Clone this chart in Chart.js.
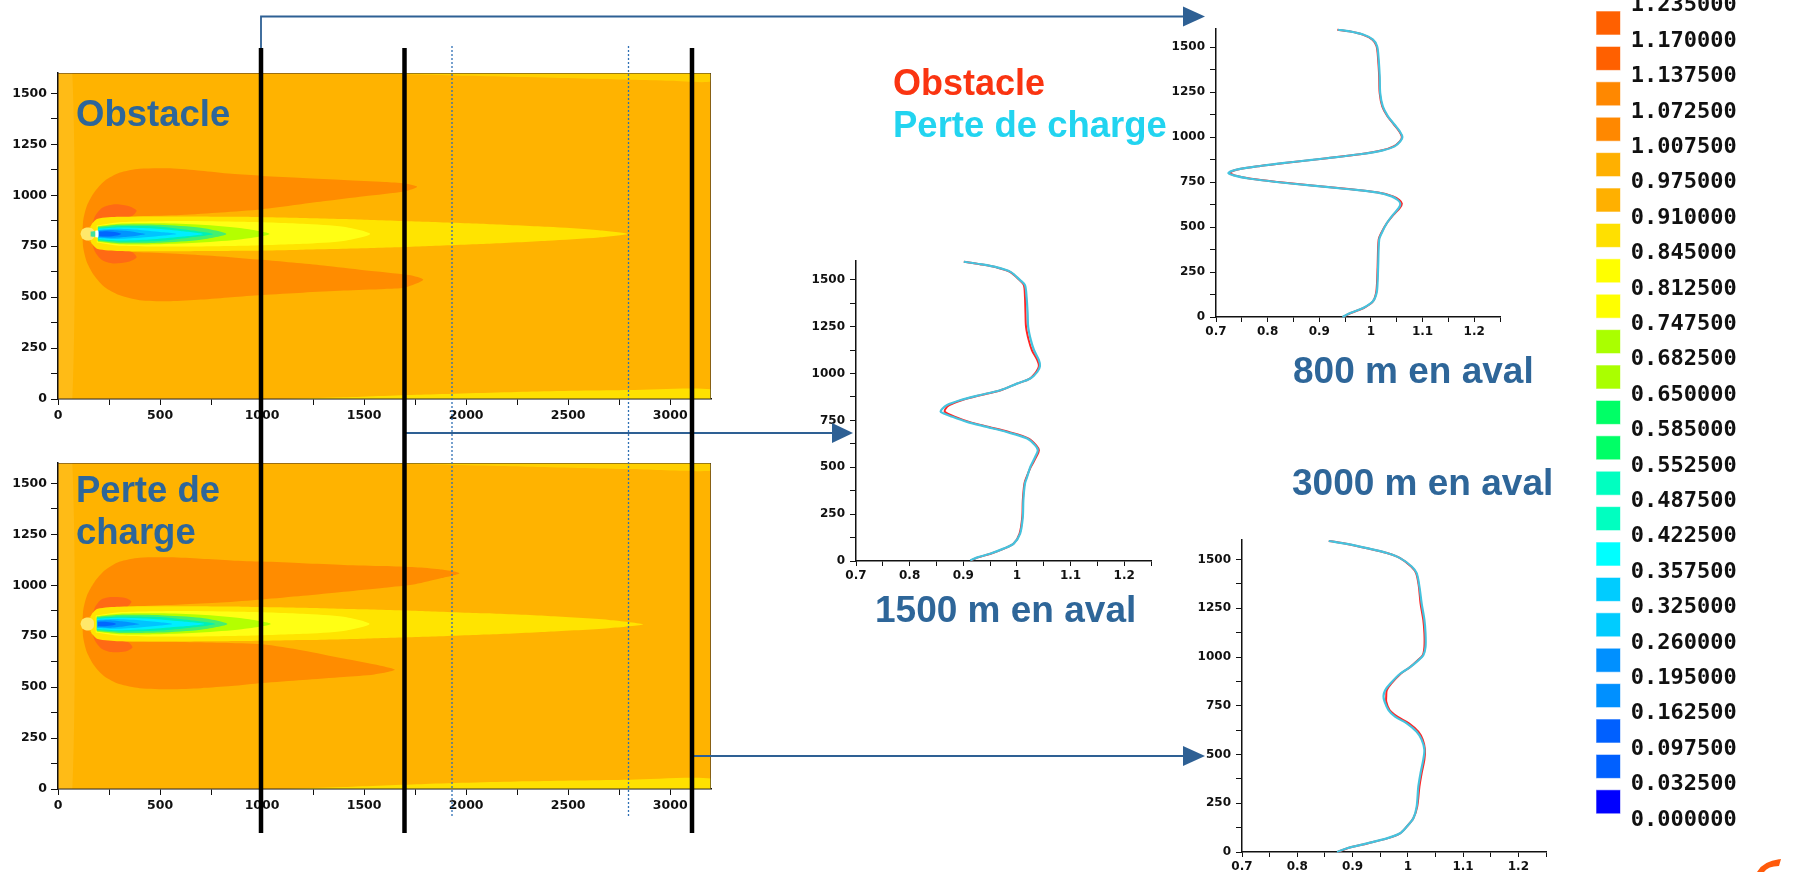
<!DOCTYPE html>
<html>
<head>
<meta charset="utf-8">
<title>Profils de vitesse — Obstacle / Perte de charge</title>
<script src="https://cdn.jsdelivr.net/npm/chart.js@4.4.1/dist/chart.umd.min.js"></script>
<style>
html,body{margin:0;padding:0;background:#fff;}
body{position:relative;width:1812px;height:872px;overflow:hidden;}
canvas{position:absolute;}
#ov{position:absolute;left:0;top:0;z-index:10;pointer-events:none;}
</style>
</head>
<body>
<canvas id="cObs" width="725" height="380" style="left:0;top:55px"></canvas>
<canvas id="cPer" width="725" height="380" style="left:0;top:445px"></canvas>
<canvas id="p800" width="355" height="330" style="left:1160px;top:15px"></canvas>
<canvas id="p1500" width="365" height="345" style="left:800px;top:245px"></canvas>
<canvas id="p3000" width="375" height="347" style="left:1185px;top:525px"></canvas>
<svg id="ov" width="1812" height="872" xmlns="http://www.w3.org/2000/svg">
  <g font-family="'Liberation Sans', Arial, sans-serif" font-weight="bold">
    <text x="893" y="95" font-size="36" fill="#fa3411">Obstacle</text>
    <text x="893" y="137" font-size="36.5" fill="#22d4f0">Perte de charge</text>
    <text x="1293" y="383" font-size="37" fill="#2e6699">800 m en aval</text>
    <text x="1292" y="495" font-size="37" fill="#2e6699">3000 m en aval</text>
    <text x="875" y="622" font-size="37" fill="#2e6699">1500 m en aval</text>
    <text x="76" y="126" font-size="36.5" fill="#2e6699">Obstacle</text>
    <text x="76" y="502" font-size="36.5" fill="#2e6699">Perte de</text>
    <text x="76" y="544" font-size="36.5" fill="#2e6699">charge</text>
  </g>
  <g stroke="#2e6094" stroke-width="1.8" fill="none">
    <polyline points="261,48 261,16.5 1186,16.5"/>
    <line x1="404.5" y1="433" x2="834" y2="433"/>
    <line x1="692" y1="756" x2="1186" y2="756"/>
  </g>
  <g fill="#2e6094">
    <polygon points="1183,6.5 1205,16.5 1183,26.5"/>
    <polygon points="832,423 853,433 832,443"/>
    <polygon points="1183,746 1205,756 1183,766"/>
  </g>
  <g stroke="#2f6fb5" stroke-width="1.3" stroke-dasharray="2 2">
    <line x1="452" y1="46" x2="452" y2="817"/>
    <line x1="628.5" y1="46" x2="628.5" y2="817"/>
  </g>
  <g stroke="#000" stroke-width="4.5">
    <line x1="261" y1="48" x2="261" y2="833"/>
    <line x1="404.5" y1="48" x2="404.5" y2="833"/>
    <line x1="692" y1="48" x2="692" y2="833"/>
  </g>
  <path d="M1757 872 Q1763 861 1781 859 L1779 866 Q1768 866 1764 872 Z" fill="#ff5a0a"/>
  <g id="legend"></g>
</svg>
<script>
// ---------------- DATA ----------------
// Contour axes (m)
const contourXTicks = [0, 500, 1000, 1500, 2000, 2500, 3000];
const contourXMinor = [250, 750, 1250, 1750, 2250, 2750];
const contourYTicks = [0, 250, 500, 750, 1000, 1250, 1500];
const contourYMinor = [125, 375, 625, 875, 1125, 1375];
// Profile axes
const profileXTicks = [0.7, 0.8, 0.9, 1, 1.1, 1.2];
const profileXMinor = [0.75, 0.85, 0.95, 1.05, 1.15, 1.25];
const profileYTicks = [0, 250, 500, 750, 1000, 1250, 1500];
const profileYMinor = [125, 375, 625, 875, 1125, 1375];

// Legend levels
const legendLabels = ['1.235000','1.170000','1.137500','1.072500','1.007500','0.975000','0.910000','0.845000','0.812500','0.747500','0.682500','0.650000','0.585000','0.552500','0.487500','0.422500','0.357500','0.325000','0.260000','0.195000','0.162500','0.097500','0.032500','0.000000'];
const legendColors = ['#ffb4b4','#ff6000','#ff6000','#ff8800','#ff8800','#ffb000','#ffb000','#ffe000','#ffff00','#ffff00','#aaff00','#aaff00','#00ff66','#00ff66','#00ffc0','#00ffc0','#00ffff','#00ccff','#00ccff','#0090ff','#0090ff','#0060ff','#0060ff','#0000ff'];

// Profile 800 m downstream
const p800Y = [0,22,50,87,133,200,281,430,467,522,569,606,630,650,670,692,711,731,750,768,787,800,819,839,861,882,904,926,948,976,1000,1031,1068,1115,1170,1244,1337,1430,1504,1541,1569,1587,1596];
const p800Perte = [0.945,0.960,0.985,1.004,1.011,1.013,1.014,1.016,1.021,1.031,1.043,1.054,1.057,1.052,1.040,1.011,0.953,0.882,0.817,0.766,0.734,0.724,0.740,0.785,0.849,0.914,0.978,1.023,1.046,1.057,1.061,1.056,1.046,1.033,1.023,1.018,1.017,1.015,1.012,1.004,0.985,0.959,0.936];
const p800Obstacle = [0.946,0.961,0.986,1.004,1.010,1.012,1.013,1.015,1.020,1.031,1.044,1.056,1.060,1.055,1.043,1.014,0.957,0.886,0.820,0.768,0.736,0.727,0.742,0.786,0.850,0.915,0.979,1.022,1.044,1.056,1.060,1.055,1.045,1.032,1.022,1.017,1.016,1.014,1.011,1.003,0.984,0.958,0.935];

// Profile 1500 m downstream
const p1500Y = [4,18,39,66,93,146,235,324,413,448,502,555,591,617,653,688,715,742,769,795,812,831,857,881,911,946,973,1009,1040,1071,1124,1178,1249,1320,1409,1471,1498,1542,1566,1583,1596];
const p1500Perte = [0.913,0.925,0.950,0.975,0.994,1.006,1.011,1.012,1.015,1.019,1.025,1.034,1.039,1.034,1.019,0.981,0.944,0.907,0.880,0.858,0.861,0.869,0.894,0.925,0.969,1.000,1.025,1.038,1.043,1.041,1.032,1.026,1.021,1.020,1.018,1.015,1.006,0.988,0.963,0.932,0.901];
const p1500Obstacle = [0.915,0.926,0.951,0.976,0.994,1.005,1.010,1.011,1.014,1.018,1.026,1.036,1.041,1.036,1.022,0.985,0.948,0.911,0.885,0.866,0.867,0.874,0.897,0.927,0.970,1.000,1.024,1.036,1.041,1.038,1.028,1.022,1.017,1.016,1.015,1.013,1.005,0.987,0.962,0.931,0.901];

// Profile 3000 m downstream
const p3000Y = [0,19,44,70,96,130,173,233,335,404,474,525,576,617,660,694,728,771,800,830,863,914,948,983,1009,1052,1121,1190,1275,1361,1430,1464,1507,1533,1558,1580,1595];
const p3000Perte = [0.872,0.890,0.926,0.962,0.986,0.998,1.010,1.016,1.019,1.023,1.028,1.030,1.025,1.016,0.998,0.977,0.965,0.958,0.956,0.959,0.968,0.986,1.004,1.019,1.028,1.032,1.032,1.030,1.025,1.021,1.016,1.007,0.986,0.962,0.926,0.890,0.857];
const p3000Obstacle = [0.873,0.891,0.927,0.963,0.986,0.998,1.010,1.017,1.021,1.025,1.030,1.031,1.027,1.019,1.002,0.981,0.967,0.961,0.961,0.962,0.970,0.987,1.004,1.018,1.027,1.030,1.030,1.028,1.023,1.020,1.015,1.006,0.986,0.962,0.926,0.890,0.857];

// Contour zones, "Obstacle" case  (x,y pairs in m)
const domain = [0,0, 3200,0, 3200,1600, 0,1600];
const inletStrip = [0,0, 70,0, 70,1600, 0,1600];
const obsTopStrip = [1300,1600, 3200,1600, 3200,1558, 3000,1562, 2600,1572, 2000,1586, 1600,1596];
const obsBottomStrip = [1100,0, 3200,0, 3200,48, 2800,44, 2300,36, 1800,22, 1400,8];
const obsUpperLobe = [120,815, 124,880, 142,950, 178,1015, 228,1070, 300,1110, 400,1130, 550,1132, 700,1120, 850,1105, 1000,1095, 1200,1085, 1400,1075, 1600,1065, 1700,1058, 1760,1042, 1700,1020, 1500,995, 1300,970, 1000,931, 800,915, 600,903, 400,897, 300,893, 230,880, 180,862, 145,838];
const obsLowerLobe = [120,805, 124,740, 142,670, 178,605, 228,550, 300,510, 400,485, 550,480, 700,488, 850,500, 1000,511, 1200,522, 1400,532, 1600,540, 1700,547, 1790,585, 1720,608, 1500,632, 1300,655, 1000,683, 800,700, 600,712, 400,720, 300,725, 230,738, 180,756, 145,780];
const obsUpperPeak = [165,845, 180,895, 215,938, 270,955, 340,948, 385,925, 365,900, 305,885, 245,872, 195,855];
const obsLowerPeak = [165,775, 180,725, 215,682, 270,665, 340,672, 385,695, 365,720, 305,735, 245,748, 195,765];
const obsWakeOuter = [150,812, 165,858, 195,885, 300,894, 600,896, 900,894, 1200,888, 1500,880, 1800,870, 2100,859, 2400,845, 2650,828, 2790,810, 2650,793, 2400,777, 2100,762, 1800,750, 1500,740, 1200,733, 900,727, 600,725, 300,726, 195,736, 165,762];
const obsBlob = [110,810, 118,832, 140,842, 165,838, 178,825, 178,795, 165,782, 140,778, 118,788];
const obsWakeInner = [190,852, 300,868, 600,874, 900,870, 1200,860, 1400,845, 1530,810, 1400,776, 1200,762, 900,752, 600,748, 300,752, 190,768];
const obsLime = [195,848, 300,860, 500,862, 700,855, 900,838, 1037,810, 900,784, 700,768, 500,760, 300,760, 195,772];
const obsGreen = [195,845, 300,855, 500,855, 700,840, 825,810, 700,782, 500,767, 300,765, 195,775];
const obsTeal = [197,840, 300,848, 500,846, 640,830, 760,810, 640,792, 500,776, 300,772, 197,780];
const obsCyan = [198,836, 300,842, 450,838, 600,825, 711,810, 600,796, 450,783, 300,778, 198,784];
const obsSky = [198,830, 280,835, 400,830, 520,818, 580,810, 520,802, 400,791, 280,785, 198,790];
const obsBlue = [198,826, 260,829, 340,824, 400,815, 430,810, 400,804, 340,796, 260,791, 198,794];
const obsDeep = [200,821, 240,823, 290,817, 310,810, 290,803, 240,797, 200,799];
const obsFront = [160,798, 183,798, 183,822, 160,822];
const obsBody = [183,794, 197,794, 197,826, 183,826];

// Contour zones, "Perte de charge" case
const perTopStrip = [1450,1600, 3200,1600, 3200,1562, 2800,1570, 2300,1582, 1800,1594];
const perBottomStrip = [1100,0, 3200,0, 3200,52, 2800,46, 2300,38, 1800,25, 1400,10];
const perUpperLobe = [120,815, 124,880, 142,950, 178,1015, 228,1072, 300,1115, 400,1135, 550,1137, 700,1130, 850,1122, 1000,1116, 1200,1108, 1400,1100, 1600,1094, 1750,1088, 1870,1078, 1967,1059, 1880,1035, 1750,1005, 1600,988, 1400,968, 1200,948, 1000,930, 800,915, 600,905, 400,897, 300,893, 230,880, 180,862, 145,838];
const perLowerLobe = [120,805, 124,740, 142,670, 178,605, 228,552, 300,515, 400,495, 550,490, 700,495, 850,505, 1000,520, 1200,535, 1400,550, 1550,562, 1651,585, 1580,605, 1400,640, 1200,680, 1000,710, 800,718, 600,722, 400,724, 300,728, 230,740, 180,758, 145,782];
const perUpperPeak = [165,840, 180,890, 212,930, 262,942, 330,938, 360,920, 340,895, 290,880, 235,868, 192,852];
const perLowerPeak = [165,780, 180,730, 212,690, 262,672, 330,675, 365,695, 345,720, 295,735, 240,748, 195,765];
const perWakeOuter = [150,812, 165,858, 195,885, 300,895, 600,897, 900,895, 1200,890, 1500,882, 1800,873, 2100,862, 2400,849, 2700,830, 2868,808, 2700,789, 2400,772, 2100,758, 1800,747, 1500,738, 1200,731, 900,726, 600,724, 300,725, 195,736, 165,762];
const perBlob = [110,810, 118,832, 140,842, 162,838, 175,825, 175,795, 162,782, 140,778, 118,788];
const perWakeInner = [185,852, 300,868, 600,874, 900,870, 1200,860, 1400,845, 1527,810, 1400,776, 1200,762, 900,752, 600,748, 300,752, 185,768];
const perLime = [190,848, 300,860, 500,862, 700,855, 900,838, 1043,810, 900,784, 700,768, 500,760, 300,760, 190,772];
const perGreen = [190,845, 300,854, 500,853, 700,840, 830,810, 700,782, 500,768, 300,766, 190,775];
const perTeal = [190,840, 300,847, 500,844, 650,828, 770,810, 650,792, 500,778, 300,773, 190,780];
const perCyan = [192,836, 300,841, 450,836, 600,823, 716,810, 600,797, 450,785, 300,779, 192,784];
const perSky = [192,830, 280,834, 400,828, 500,818, 560,810, 500,802, 400,793, 280,786, 192,790];
const perBlue = [192,826, 250,828, 320,822, 380,814, 400,810, 380,806, 320,798, 250,792, 192,794];
const perDeep = [195,820, 230,821, 270,816, 285,810, 270,804, 230,799, 195,800];

// ---------------- STYLE ----------------
const zoneColors = {
  bg:'#ffb300', inlet:'#ffbb16', topStrip:'#ffcf00', bottomStrip:'#ffe000', lobe:'#ff8c00', peak:'#ff6a14',
  wakeOuter:'#ffe400', blob:'#ffe86a', wakeInner:'#ffff14', lime:'#b4ff00', green:'#44f070', teal:'#00f0b4',
  cyan:'#00eeff', sky:'#00c4ff', blue:'#0094ff', deep:'#0066ff', front:'#40e0a0', body:'#ffffff'
};
const tickFontContour = {family:"'DejaVu Sans', sans-serif", weight:'bold', size:12.5};
const tickFontProfile = {family:"'DejaVu Sans', sans-serif", weight:'bold', size:12};

function pts(flat){ const a=[]; for(let i=0;i<flat.length;i+=2) a.push({x:flat[i], y:flat[i+1]}); return a; }
function merge(a,b){ return a.concat(b).sort((p,q)=>p-q); }

function contourChart(id, layers){
  const datasets = layers.map(([flat,key]) => ({
    data: pts(flat), backgroundColor: zoneColors[key], borderColor:'rgba(0,0,0,0)', borderWidth:0,
    pointRadius:0, pointHoverRadius:0, fill:'shape', tension:0.25
  }));
  datasets.push({data: pts(domain.concat([0,0])), borderColor:'#3a2a22', borderWidth:1.2, pointRadius:0, fill:false, tension:0});
  datasets.forEach((d,i)=>{ d.order = datasets.length - i; });
  const xAll = merge(contourXTicks, contourXMinor), yAll = merge(contourYTicks, contourYMinor);
  new Chart(document.getElementById(id), {
    type:'line',
    data:{datasets},
    options:{
      responsive:false, devicePixelRatio:1, animation:false, events:[],
      layout:{padding:{top:18, right:14, left:0, bottom:0}},
      plugins:{legend:{display:false}, tooltip:{enabled:false}},
      scales:{
        x:{type:'linear', min:0, max:3200,
           afterBuildTicks: ax => { ax.ticks = xAll.map(v=>({value:v})); },
           afterFit: ax => { ax.height = 36; },
           ticks:{callback: v => contourXTicks.includes(v) ? String(v) : '', font:tickFontContour, color:'#111', autoSkip:false, maxRotation:0, padding:3},
           grid:{drawOnChartArea:false, tickLength:6, color:'#111', lineWidth:1},
           border:{color:'#111', width:1.5}},
        y:{type:'linear', min:0, max:1600,
           afterBuildTicks: ax => { ax.ticks = yAll.map(v=>({value:v})); },
           afterFit: ax => { ax.width = 58; },
           ticks:{callback: v => contourYTicks.includes(v) ? String(v) : '', font:tickFontContour, color:'#111', autoSkip:false, padding:4},
           grid:{drawOnChartArea:false, tickLength:7, color:'#111', lineWidth:1},
           border:{color:'#111', width:1.5}}
      }
    }
  });
}

function profileChart(id, ys, obs, per, pad, yw, xh){
  const xAll = merge(profileXTicks, profileXMinor), yAll = merge(profileYTicks, profileYMinor);
  new Chart(document.getElementById(id), {
    type:'line',
    data:{datasets:[
      {label:'Perte de charge', data: ys.map((y,i)=>({x:per[i], y})), borderColor:'#45c3de', borderWidth:2.2, pointRadius:0, fill:false, tension:0.3, order:0, clip:false},
      {label:'Obstacle', data: ys.map((y,i)=>({x:obs[i], y})), borderColor:'#ff2424', borderWidth:2, pointRadius:0, fill:false, tension:0.3, order:1, clip:false}
    ]},
    options:{
      responsive:false, devicePixelRatio:1, animation:false, events:[],
      layout:{padding:{top:pad.top, right:pad.right, left:0, bottom:0}},
      plugins:{legend:{display:false}, tooltip:{enabled:false}},
      scales:{
        x:{type:'linear', min:0.7, max:1.25,
           afterBuildTicks: ax => { ax.ticks = xAll.map(v=>({value:v})); },
           afterFit: ax => { ax.height = xh; },
           ticks:{callback: v => profileXTicks.includes(v) ? String(v) : '', font:tickFontProfile, color:'#111', autoSkip:false, maxRotation:0, padding:3},
           grid:{drawOnChartArea:false, tickLength:5, color:'#111', lineWidth:1},
           border:{color:'#111', width:1.5}},
        y:{type:'linear', min:0, max:1600,
           afterBuildTicks: ax => { ax.ticks = yAll.map(v=>({value:v})); },
           afterFit: ax => { ax.width = yw; },
           ticks:{callback: v => profileYTicks.includes(v) ? String(v) : '', font:tickFontProfile, color:'#111', autoSkip:false, padding:5},
           grid:{drawOnChartArea:false, tickLength:6, color:'#111', lineWidth:1},
           border:{color:'#111', width:1.5}}
      }
    }
  });
}

contourChart('cObs', [
  [domain,'bg'], [inletStrip,'inlet'], [obsTopStrip,'topStrip'], [obsBottomStrip,'bottomStrip'],
  [obsUpperLobe,'lobe'], [obsLowerLobe,'lobe'], [obsUpperPeak,'peak'], [obsLowerPeak,'peak'],
  [obsWakeOuter,'wakeOuter'], [obsBlob,'blob'], [obsWakeInner,'wakeInner'], [obsLime,'lime'],
  [obsGreen,'green'], [obsTeal,'teal'], [obsCyan,'cyan'], [obsSky,'sky'], [obsBlue,'blue'], [obsDeep,'deep'],
  [obsFront,'front'], [obsBody,'body']
]);
contourChart('cPer', [
  [domain,'bg'], [inletStrip,'inlet'], [perTopStrip,'topStrip'], [perBottomStrip,'bottomStrip'],
  [perUpperLobe,'lobe'], [perLowerLobe,'lobe'], [perUpperPeak,'peak'], [perLowerPeak,'peak'],
  [perWakeOuter,'wakeOuter'], [perBlob,'blob'], [perWakeInner,'wakeInner'], [perLime,'lime'],
  [perGreen,'green'], [perTeal,'teal'], [perCyan,'cyan'], [perSky,'sky'], [perBlue,'blue'], [perDeep,'deep']
]);
profileChart('p800', p800Y, p800Obstacle, p800Perte, {top:14, right:15}, 56, 28);
profileChart('p1500', p1500Y, p1500Obstacle, p1500Perte, {top:16, right:14}, 56, 29);
profileChart('p3000', p3000Y, p3000Obstacle, p3000Perte, {top:15, right:14}, 57, 20);

// Legend (colour scale)
(function(){
  const g = document.getElementById('legend');
  const NS = 'http://www.w3.org/2000/svg';
  legendColors.forEach((c,j)=>{
    const r = document.createElementNS(NS,'rect');
    r.setAttribute('x', 1596); r.setAttribute('y', (11 + 35.4*(j-1)).toFixed(1));
    r.setAttribute('width', 24.5); r.setAttribute('height', 24);
    r.setAttribute('fill', c); r.setAttribute('stroke', 'rgba(255,255,255,0.6)'); r.setAttribute('stroke-width', 1);
    g.appendChild(r);
  });
  legendLabels.forEach((t,i)=>{
    const tx = document.createElementNS(NS,'text');
    tx.setAttribute('x', 1630.7); tx.setAttribute('y', (11.3 + 35.4*i).toFixed(1));
    tx.setAttribute('font-family', "'DejaVu Sans Mono', monospace"); tx.setAttribute('font-weight', 'bold');
    tx.setAttribute('font-size', 22); tx.setAttribute('fill', '#111');
    tx.textContent = t;
    g.appendChild(tx);
  });
})();
</script>
</body>
</html>
